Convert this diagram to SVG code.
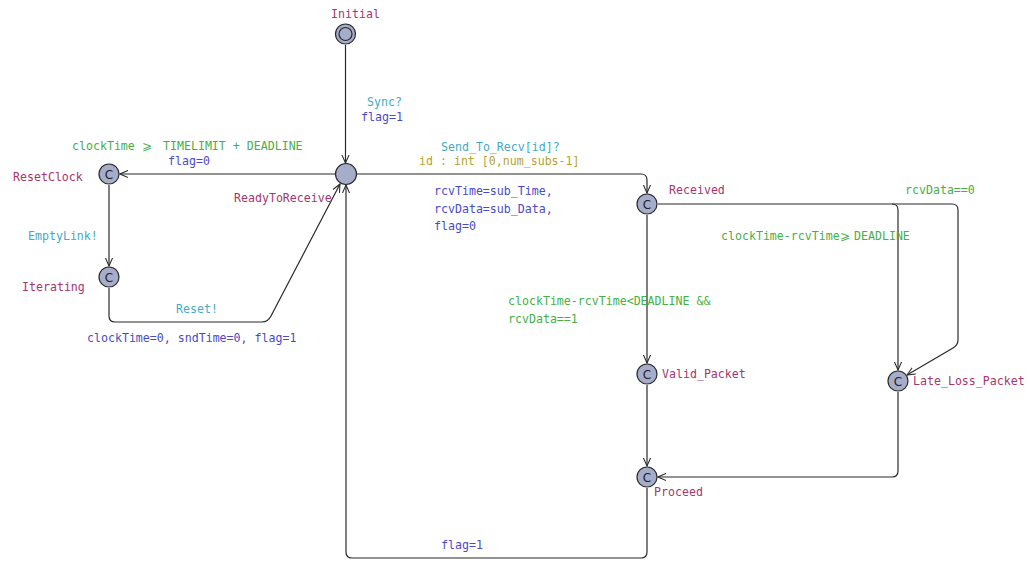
<svg xmlns="http://www.w3.org/2000/svg" width="1031" height="574" viewBox="0 0 1031 574">
<defs>
<style>
text{font-family:"DejaVu Sans Mono","Liberation Mono",monospace;font-size:11.6px}
.nm{fill:#a8356b}
.sy{fill:#45a9c4}
.up{fill:#4a4ac8}
.gd{fill:#45b045}
.sel{fill:#b4a232}
.node{fill:#a6adcb;stroke:#2a2a2a;stroke-width:1.2}
.c{font-family:"DejaVu Sans","Liberation Sans",sans-serif;font-size:12px;fill:#222;text-anchor:middle}
.e{fill:none;stroke:#2a2a2a;stroke-width:1.2}
</style>
<marker id="ar" viewBox="0 0 10 10" refX="9" refY="5" markerWidth="9" markerHeight="9" markerUnits="userSpaceOnUse" orient="auto">
<path d="M0,1 L9,5 L0,9" fill="none" stroke="#2a2a2a" stroke-width="1.2"/>
</marker>
</defs>
<rect width="1031" height="574" fill="#fff"/>
<g id="edges">
<path class="e" d="M345.5,45 L345.5,163" marker-end="url(#ar)"/>
<path class="e" d="M335,174 L120,174" marker-end="url(#ar)"/>
<path class="e" d="M109,185 L109,266" marker-end="url(#ar)"/>
<path class="e" d="M109,288 L109,316 Q109,322 115,322 L262,322 Q268,322 271,316 L340,184" marker-end="url(#ar)"/>
<path class="e" d="M357,174 L641,174 Q647,174 647,180 L647,193" marker-end="url(#ar)"/>
<path class="e" d="M647,215 L647,363" marker-end="url(#ar)"/>
<path class="e" d="M647,385 L647,466" marker-end="url(#ar)"/>
<path class="e" d="M658,204 L892,204 Q898,204 898,210 L898,370" marker-end="url(#ar)"/>
<path class="e" d="M892,204 L952,204 Q958,204 958,210 L958,340 Q958,345 953,348 L907,375" marker-end="url(#ar)"/>
<path class="e" d="M898,392 L898,471 Q898,477 892,477 L658,477" marker-end="url(#ar)"/>
<path class="e" d="M647,488 L647,552 Q647,558 641,558 L352,558 Q346,558 346,552 L346,185" marker-end="url(#ar)"/>
</g>
<g id="labels">
<text class="sy" x="367" y="106">Sync?</text>
<text class="up" x="361" y="121">flag=1</text>
<text class="gd" y="150"><tspan x="72">clockTime</tspan><tspan x="142">⩾</tspan><tspan x="163">TIMELIMIT + DEADLINE</tspan></text>
<text class="up" x="168" y="165">flag=0</text>
<text class="sy" x="28" y="240">EmptyLink!</text>
<text class="sy" x="176" y="313">Reset!</text>
<text class="up" x="87" y="342">clockTime=0, sndTime=0, flag=1</text>
<text class="sy" x="441" y="151">Send_To_Recv[id]?</text>
<text class="sel" x="419" y="165">id : int [0,num_subs-1]</text>
<text class="up" x="434" y="195">rcvTime=sub_Time,</text>
<text class="up" x="434" y="213">rcvData=sub_Data,</text>
<text class="up" x="434" y="230">flag=0</text>
<text class="gd" x="905" y="194">rcvData==0</text>
<text class="gd" y="240"><tspan x="721">clockTime-rcvTime</tspan><tspan x="840">⩾</tspan><tspan x="854">DEADLINE</tspan></text>
<text class="gd" x="508" y="305">clockTime-rcvTime&lt;DEADLINE &amp;&amp;</text>
<text class="gd" x="508" y="323">rcvData==1</text>
<text class="up" x="441" y="549">flag=1</text>
</g>
<g id="Initial">
<circle class="node" cx="345.5" cy="34" r="10"/>
<circle cx="345.5" cy="34" r="6.5" fill="none" stroke="#2a2a2a" stroke-width="1.2"/>
<text class="nm" x="331" y="18">Initial</text>
</g>
<g id="ReadyToReceive">
<circle class="node" cx="346" cy="174" r="10.5"/>
<text class="nm" x="234" y="202">ReadyToReceive</text>
</g>
<g id="ResetClock">
<circle class="node" cx="109" cy="174" r="10"/>
<text class="c" x="109" y="178.5">C</text>
<text class="nm" x="13" y="181">ResetClock</text>
</g>
<g id="Iterating">
<circle class="node" cx="109" cy="277" r="10"/>
<text class="c" x="109" y="281.5">C</text>
<text class="nm" x="22" y="291">Iterating</text>
</g>
<g id="Received">
<circle class="node" cx="647" cy="204" r="10"/>
<text class="c" x="647" y="208.5">C</text>
<text class="nm" x="669" y="194">Received</text>
</g>
<g id="Valid_Packet">
<circle class="node" cx="647" cy="374" r="10"/>
<text class="c" x="647" y="378.5">C</text>
<text class="nm" x="662" y="378">Valid_Packet</text>
</g>
<g id="Late_Loss_Packet">
<circle class="node" cx="898" cy="381" r="10"/>
<text class="c" x="898" y="385.5">C</text>
<text class="nm" x="913" y="385">Late_Loss_Packet</text>
</g>
<g id="Proceed">
<circle class="node" cx="647" cy="477" r="10"/>
<text class="c" x="647" y="481.5">C</text>
<text class="nm" x="654" y="496">Proceed</text>
</g>
</svg>
